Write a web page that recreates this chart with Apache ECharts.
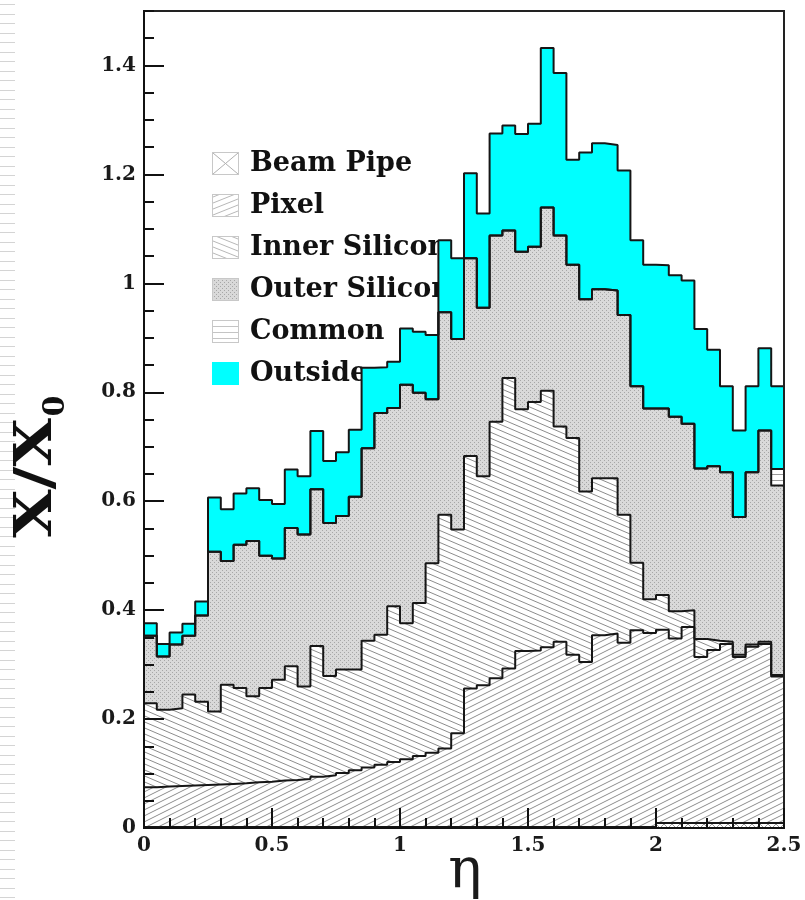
<!DOCTYPE html>
<html>
<head>
<meta charset="utf-8">
<script src="https://cdn.jsdelivr.net/npm/echarts@6/dist/echarts.min.js"></script>
<style>
  html, body { margin: 0; padding: 0; background: #ffffff; }
  #chart { width: 805px; height: 900px; }
</style>
</head>
<body>
<div id="chart"></div>
<script>
// Pseudorapidity bin edges (50 bins of 0.05 from 0 to 2.5)
const etaEdges = [
  0.00, 0.05, 0.10, 0.15, 0.20, 0.25, 0.30, 0.35, 0.40, 0.45,
  0.50, 0.55, 0.60, 0.65, 0.70, 0.75, 0.80, 0.85, 0.90, 0.95,
  1.00, 1.05, 1.10, 1.15, 1.20, 1.25, 1.30, 1.35, 1.40, 1.45,
  1.50, 1.55, 1.60, 1.65, 1.70, 1.75, 1.80, 1.85, 1.90, 1.95,
  2.00, 2.05, 2.10, 2.15, 2.20, 2.25, 2.30, 2.35, 2.40, 2.45,
  2.50
];

// Cumulative material budget X/X0 up to and including each subsystem
const beamPipeTop = [
  0.002, 0.002, 0.002, 0.002, 0.002, 0.002, 0.002, 0.002, 0.002, 0.002,
  0.002, 0.002, 0.002, 0.002, 0.002, 0.002, 0.002, 0.002, 0.002, 0.002,
  0.002, 0.002, 0.002, 0.002, 0.002, 0.002, 0.002, 0.002, 0.002, 0.002,
  0.002, 0.002, 0.002, 0.002, 0.002, 0.002, 0.002, 0.002, 0.002, 0.002,
  0.009, 0.009, 0.009, 0.009, 0.009, 0.009, 0.009, 0.009, 0.009, 0.009
];
const pixelTop = [
  0.075, 0.076, 0.077, 0.078, 0.079, 0.080, 0.081, 0.082, 0.084, 0.085,
  0.087, 0.088, 0.090, 0.094, 0.097, 0.101, 0.106, 0.111, 0.116, 0.121,
  0.126, 0.132, 0.138, 0.146, 0.174, 0.256, 0.262, 0.275, 0.293, 0.325,
  0.326, 0.332, 0.342, 0.318, 0.305, 0.354, 0.357, 0.340, 0.363, 0.358,
  0.364, 0.348, 0.369, 0.314, 0.327, 0.338, 0.314, 0.333, 0.338, 0.278
];
const innerSiliconTop = [
  0.229, 0.217, 0.220, 0.245, 0.232, 0.214, 0.263, 0.257, 0.242, 0.257,
  0.272, 0.297, 0.260, 0.334, 0.279, 0.291, 0.291, 0.344, 0.355, 0.407,
  0.376, 0.413, 0.486, 0.575, 0.548, 0.683, 0.646, 0.746, 0.826, 0.769,
  0.782, 0.803, 0.737, 0.716, 0.618, 0.642, 0.642, 0.575, 0.487, 0.420,
  0.428, 0.398, 0.400, 0.347, 0.344, 0.342, 0.318, 0.337, 0.342, 0.281
];
const outerSiliconTop = [
  0.353, 0.315, 0.337, 0.353, 0.390, 0.507, 0.490, 0.520, 0.527, 0.500,
  0.495, 0.551, 0.539, 0.622, 0.560, 0.573, 0.608, 0.697, 0.762, 0.771,
  0.814, 0.799, 0.787, 0.947, 0.898, 1.046, 0.955, 1.088, 1.097, 1.058,
  1.067, 1.139, 1.088, 1.034, 0.971, 0.989, 0.987, 0.942, 0.811, 0.770,
  0.770, 0.755, 0.742, 0.660, 0.664, 0.653, 0.571, 0.653, 0.730, 0.629
];
const commonTop = [
  0.353, 0.315, 0.337, 0.353, 0.390, 0.507, 0.490, 0.520, 0.527, 0.500,
  0.495, 0.551, 0.539, 0.622, 0.560, 0.573, 0.608, 0.697, 0.762, 0.771,
  0.814, 0.799, 0.787, 0.947, 0.898, 1.046, 0.955, 1.088, 1.097, 1.058,
  1.067, 1.139, 1.088, 1.034, 0.971, 0.989, 0.987, 0.942, 0.811, 0.770,
  0.770, 0.755, 0.742, 0.660, 0.664, 0.653, 0.571, 0.653, 0.730, 0.659
];
const outsideTop = [
  0.376, 0.338, 0.359, 0.375, 0.416, 0.607, 0.585, 0.614, 0.624, 0.602,
  0.595, 0.658, 0.646, 0.729, 0.674, 0.690, 0.731, 0.845, 0.846, 0.856,
  0.917, 0.911, 0.905, 1.079, 1.046, 1.202, 1.128, 1.275, 1.290, 1.274,
  1.293, 1.432, 1.386, 1.227, 1.240, 1.257, 1.254, 1.207, 1.079, 1.034,
  1.033, 1.015, 1.005, 0.916, 0.878, 0.811, 0.730, 0.811, 0.881, 0.811
];

const layerNames = ['Beam Pipe', 'Pixel', 'Inner Silicon', 'Outer Silicon', 'Common', 'Outside'];
const xMajorTicks = [0, 0.5, 1, 1.5, 2, 2.5];
const yMajorTicks = [0, 0.2, 0.4, 0.6, 0.8, 1, 1.2, 1.4];

// ---- fill patterns -------------------------------------------------------
function tile(w, h, bg, draw) {
  const c = document.createElement('canvas');
  c.width = w; c.height = h;
  const g = c.getContext('2d');
  if (bg) { g.fillStyle = bg; g.fillRect(0, 0, w, h); }
  draw(g, w, h);
  return c;
}
function stripeTile(w, h, rising, color, lw) {
  return tile(w, h, '#ffffff', (g) => {
    g.strokeStyle = color; g.lineWidth = lw;
    for (let k = -1; k <= 1; k++) {
      g.beginPath();
      if (rising) {
        g.moveTo(-1, h + k * h + h / w);
        g.lineTo(w + 1, k * h - h / w);
      } else {
        g.moveTo(-1, k * h - h / w);
        g.lineTo(w + 1, h + k * h + h / w);
      }
      g.stroke();
    }
  });
}
const tiles = {
  beam: tile(8, 8, '#ffffff', (g) => {
    g.strokeStyle = '#9a9a9a'; g.lineWidth = 1;
    g.beginPath(); g.moveTo(0, 0); g.lineTo(8, 8); g.moveTo(8, 0); g.lineTo(0, 8); g.stroke();
  }),
  pixel: stripeTile(12, 6, true, '#8c8c8c', 1),
  inner: stripeTile(14, 6, false, '#8c8c8c', 1),
  outer: tile(4, 4, '#d9d9d9', (g) => {
    g.fillStyle = '#a6a6a6';
    g.fillRect(0, 0, 1, 1); g.fillRect(2, 2, 1, 1);
  }),
  common: tile(8, 6, '#ffffff', (g) => { g.fillStyle = '#9a9a9a'; g.fillRect(0, 0, 8, 1); })
};
const pattern = (c) => ({ image: c, repeat: 'repeat' });

// legend boxes: a framed 27x23 swatch, padded on the right
function legendIcon(kind) {
  const c = document.createElement('canvas');
  c.width = 33; c.height = 23;
  const g = c.getContext('2d');
  if (kind === 'outside') {
    g.fillStyle = '#00ffff'; g.fillRect(0, 0, 27, 23);
  } else {
    g.fillStyle = '#ffffff'; g.fillRect(0, 0, 27, 23);
    if (kind === 'beam') {
      g.strokeStyle = '#b0b0b0'; g.lineWidth = 1;
      g.beginPath(); g.moveTo(1, 1); g.lineTo(26, 22); g.moveTo(26, 1); g.lineTo(1, 22); g.stroke();
    } else if (kind === 'pixel' || kind === 'inner') {
      g.strokeStyle = '#b8b8b8'; g.lineWidth = 1;
      for (let k = -1; k < 5; k++) {
        g.beginPath();
        if (kind === 'pixel') { g.moveTo(1, 9 + k * 6); g.lineTo(26, k * 6 - 1); }
        else { g.moveTo(1, k * 6 - 1); g.lineTo(26, 9 + k * 6); }
        g.stroke();
      }
    } else if (kind === 'outer') {
      g.fillStyle = g.createPattern(tiles.outer, 'repeat');
      g.fillRect(1, 1, 25, 21);
    } else if (kind === 'common') {
      g.fillStyle = '#c4c4c4';
      for (let y = 6; y < 22; y += 6) g.fillRect(1, y, 25, 1);
    }
    g.strokeStyle = '#c8c8c8'; g.lineWidth = 1;
    g.strokeRect(0.5, 0.5, 26, 22);
  }
  return 'image://' + c.toDataURL();
}

// histogram outline: each bin value holds until the next edge
function stepData(tops) {
  const pts = tops.map((v, i) => [etaEdges[i], v]);
  pts.push([etaEdges[tops.length], tops[tops.length - 1]]);
  return pts;
}

function layerSeries(name, tops, fill) {
  return {
    name: name,
    type: 'line',
    step: 'end',
    data: stepData(tops),
    symbol: 'none',
    silent: true,
    xAxisIndex: 0,
    yAxisIndex: 0,
    z: 3,
    lineStyle: { color: '#161616', width: 2 },
    itemStyle: { color: '#161616' },
    areaStyle: { color: fill, opacity: 1, origin: 'start' },
    emphasis: { disabled: true }
  };
}

// drawn from the outermost total down so inner layers paint over it
const series = [
  layerSeries('Outside', outsideTop, '#00ffff'),
  layerSeries('Common', commonTop, pattern(tiles.common)),
  layerSeries('Outer Silicon', outerSiliconTop, pattern(tiles.outer)),
  layerSeries('Inner Silicon', innerSiliconTop, pattern(tiles.inner)),
  layerSeries('Pixel', pixelTop, pattern(tiles.pixel)),
  layerSeries('Beam Pipe', beamPipeTop, pattern(tiles.beam))
];

const iconKinds = ['beam', 'pixel', 'inner', 'outer', 'common', 'outside'];

const tickFont = { fontFamily: 'DejaVu Serif', fontWeight: 'bold', fontSize: 20, color: '#1a1a1a' };

// faint ruled margin along the left page edge
const marginRules = [];
for (let y = 4; y < 900; y += 9.5) {
  marginRules.push({ type: 'rect', shape: { x: 0, y: Math.round(y), width: 15, height: 1 },
    style: { fill: '#d4d4d4' }, silent: true });
}

const chart = echarts.init(document.getElementById('chart'), null, { renderer: 'canvas' });
chart.setOption({
  animation: false,
  backgroundColor: '#ffffff',
  grid: {
    left: 144, top: 11, width: 640, height: 817,
    show: true, borderColor: '#222222', borderWidth: 2, z: 10,
    backgroundColor: 'transparent'
  },
  legend: {
    orient: 'vertical',
    left: 207, top: 145, z: 1, padding: 5,
    itemWidth: 33, itemHeight: 23, itemGap: 15,
    selectedMode: false,
    textStyle: { fontFamily: 'DejaVu Serif', fontWeight: 'bold', fontSize: 27, color: '#111111', lineHeight: 26 },
    data: layerNames.map((n, i) => ({ name: n, icon: legendIcon(iconKinds[i]) }))
  },
  xAxis: [
    {
      type: 'value', min: 0, max: 2.5, interval: 0.5, position: 'bottom', z: 10,
      axisLine: { show: true, lineStyle: { color: '#111111', width: 2 } },
      axisTick: { show: true, inside: true, length: 20, customValues: xMajorTicks, lineStyle: { color: '#111111', width: 2 } },
      axisLabel: Object.assign({ margin: 8, customValues: xMajorTicks }, tickFont),
      splitLine: { show: false }
    },
    {
      type: 'value', min: 0, max: 2.5, interval: 0.1, position: 'bottom', z: 10,
      axisLine: { show: false },
      axisTick: { show: true, inside: true, length: 10, lineStyle: { color: '#111111', width: 2 } },
      axisLabel: { show: false },
      splitLine: { show: false }
    }
  ],
  yAxis: [
    {
      type: 'value', min: 0, max: 1.5, interval: 0.2, position: 'left', z: 10,
      axisLine: { show: true, lineStyle: { color: '#111111', width: 2 } },
      axisTick: { show: true, inside: true, length: 20, customValues: yMajorTicks, lineStyle: { color: '#111111', width: 2 } },
      axisLabel: Object.assign({ margin: 8, customValues: yMajorTicks }, tickFont),
      splitLine: { show: false }
    },
    {
      type: 'value', min: 0, max: 1.5, interval: 0.05, position: 'left', z: 10,
      axisLine: { show: false },
      axisTick: { show: true, inside: true, length: 10, lineStyle: { color: '#111111', width: 2 } },
      axisLabel: { show: false },
      splitLine: { show: false }
    }
  ],
  graphic: [
    { type: 'group', silent: true, children: marginRules },
    {
      type: 'text', x: 37, y: 478, rotation: Math.PI / 2, scaleX: 1.2, silent: true,
      style: { text: 'X/X', font: 'bold 52px "DejaVu Serif"', fill: '#111111', align: 'center', verticalAlign: 'middle' }
    },
    {
      type: 'text', x: 56, y: 406, rotation: Math.PI / 2, silent: true,
      style: { text: '0', font: 'bold 30px "DejaVu Serif"', fill: '#111111', align: 'center', verticalAlign: 'middle' }
    },
    {
      type: 'text', x: 465, y: 872, silent: true,
      style: { text: 'η', font: '56px "DejaVu Serif"', fill: '#1a1a1a', align: 'center', verticalAlign: 'middle' }
    }
  ],
  series: series
});
</script>
</body>
</html>
